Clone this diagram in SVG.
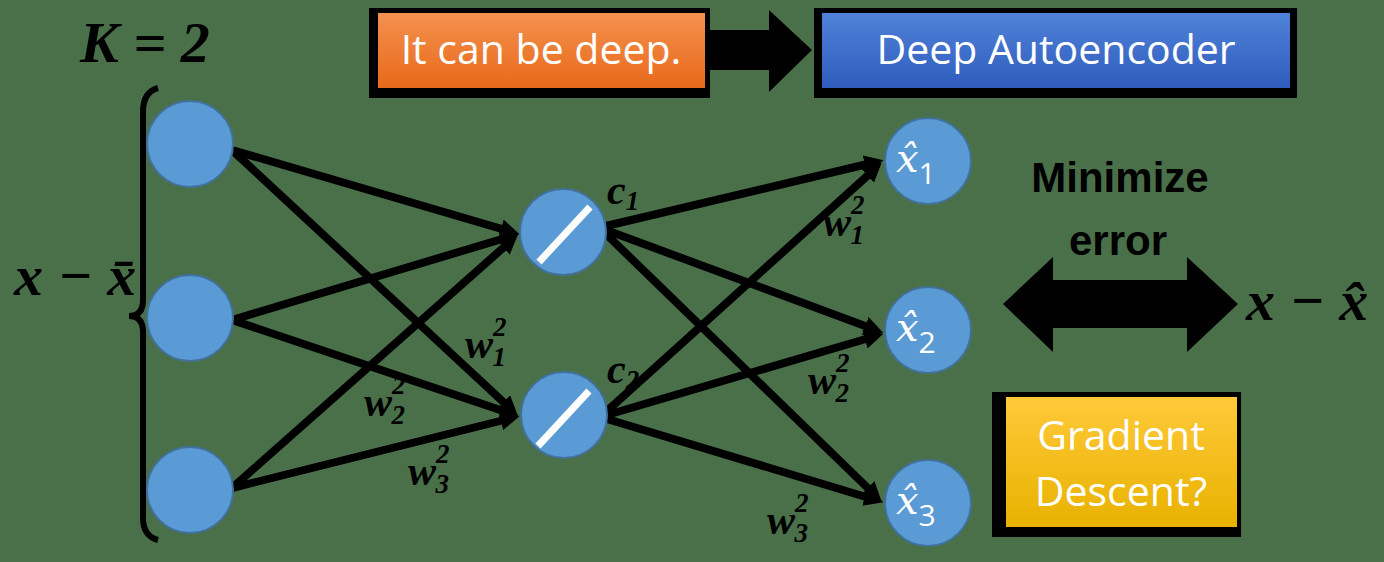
<svg xmlns="http://www.w3.org/2000/svg" width="1384" height="562" viewBox="0 0 1384 562">
<defs>
<linearGradient id="gOrange" x1="0" y1="0" x2="0" y2="1"><stop offset="0" stop-color="#f4914f"/><stop offset="1" stop-color="#e8691a"/></linearGradient>
<linearGradient id="gBlue" x1="0" y1="0" x2="0" y2="1"><stop offset="0" stop-color="#4f82d8"/><stop offset="1" stop-color="#2f5cbd"/></linearGradient>
<linearGradient id="gYellow" x1="0" y1="0" x2="0" y2="1"><stop offset="0" stop-color="#ffc93a"/><stop offset="1" stop-color="#e8b200"/></linearGradient>
<marker id="ah" viewBox="0 0 10 10" refX="6" refY="5" markerWidth="2.4" markerHeight="2.4" orient="auto"><path d="M0,0 L10,5 L0,10 z" fill="#000"/></marker>
</defs>
<style>
.node{fill:#5b9bd5;stroke:#41719c;stroke-width:2}
.conn{stroke:#000;stroke-width:8;fill:none;marker-end:url(#ah)}
.math{font-family:"Liberation Serif",serif;font-style:italic;font-weight:bold;fill:#000}
.lbl{font-family:"Liberation Serif",serif;font-style:italic;font-weight:bold;fill:#000;font-size:42px}
.sup{font-size:27px}
.box{font-family:"Open Sans","Noto Sans",sans-serif;fill:#fff;text-anchor:middle}
.hat{font-family:"DejaVu Serif","Liberation Serif",serif;font-style:italic;fill:#fff;font-size:40px}
.sub{font-family:"Open Sans",sans-serif;font-style:normal;font-size:30px}
.big{font-family:"Liberation Sans",sans-serif;font-weight:bold;fill:#000;font-size:42px;text-anchor:middle}
.slash{stroke:#fff;stroke-width:7}
</style>
<rect width="1384" height="562" fill="#4a704a"/>

<g id="connectors">
<line class="conn" x1="232" y1="150" x2="512" y2="232"/>
<line class="conn" x1="232" y1="150" x2="512" y2="410"/>
<line class="conn" x1="232" y1="320" x2="512" y2="236"/>
<line class="conn" x1="232" y1="320" x2="512" y2="414"/>
<line class="conn" x1="232" y1="488" x2="512" y2="240"/>
<line class="conn" x1="232" y1="488" x2="512" y2="418"/>
<line class="conn" x1="606" y1="226" x2="876" y2="162"/>
<line class="conn" x1="606" y1="230" x2="876" y2="330"/>
<line class="conn" x1="606" y1="234" x2="876" y2="496"/>
<line class="conn" x1="607" y1="411" x2="876" y2="168"/>
<line class="conn" x1="607" y1="415" x2="876" y2="336"/>
<line class="conn" x1="607" y1="419" x2="876" y2="500"/>
</g>

<g id="bracket">
<path d="M158 88 Q143 92 143 112 L143 300 Q143 316 129 316 Q143 316 143 332 L143 518 Q143 536 158 540" fill="none" stroke="#000" stroke-width="6"/>
</g>
<g id="label-K"><text class="math" x="80" y="62" font-size="58">K = 2</text></g>
<g id="label-x-left"><text class="math" x="14" y="295" font-size="58">x − x̄</text></g>

<g id="in1"><circle class="node" cx="190" cy="144" r="43"/></g>
<g id="in2"><circle class="node" cx="190" cy="318" r="43"/></g>
<g id="in3"><circle class="node" cx="190" cy="490" r="43"/></g>

<g id="h1"><circle class="node" cx="563" cy="232" r="43"/><line class="slash" x1="539" y1="262" x2="590" y2="207"/></g>
<g id="h2"><circle class="node" cx="564" cy="415" r="43"/><line class="slash" x1="538" y1="446" x2="589" y2="391"/></g>

<g id="out1"><circle class="node" cx="928" cy="161" r="43"/><text class="hat" x="896" y="172">x̂<tspan class="sub" dy="12">1</tspan></text></g>
<g id="out2"><circle class="node" cx="928" cy="330" r="43"/><text class="hat" x="896" y="341">x̂<tspan class="sub" dy="12">2</tspan></text></g>
<g id="out3"><circle class="node" cx="928" cy="503" r="43"/><text class="hat" x="896" y="514">x̂<tspan class="sub" dy="12">3</tspan></text></g>

<g id="weight-labels">
<text class="lbl" x="465" y="358">w<tspan class="sup" dy="-22">2</tspan><tspan class="sup" dx="-14" dy="30">1</tspan></text>
<text class="lbl" x="364" y="416">w<tspan class="sup" dy="-22">2</tspan><tspan class="sup" dx="-14" dy="30">2</tspan></text>
<text class="lbl" x="408" y="485">w<tspan class="sup" dy="-22">2</tspan><tspan class="sup" dx="-14" dy="30">3</tspan></text>
<text class="lbl" x="823" y="236">w<tspan class="sup" dy="-22">2</tspan><tspan class="sup" dx="-14" dy="30">1</tspan></text>
<text class="lbl" x="808" y="394">w<tspan class="sup" dy="-22">2</tspan><tspan class="sup" dx="-14" dy="30">2</tspan></text>
<text class="lbl" x="767" y="534">w<tspan class="sup" dy="-22">2</tspan><tspan class="sup" dx="-14" dy="30">3</tspan></text>
<text class="lbl" x="607" y="204" font-size="34">c<tspan class="sup" dy="6">1</tspan></text>
<text class="lbl" x="607" y="383" font-size="34">c<tspan class="sup" dy="6">2</tspan></text>
</g>

<g id="box-deep">
<rect x="369" y="8" width="341" height="90" fill="#000"/>
<rect x="378" y="13" width="327" height="75" fill="url(#gOrange)"/>
<text class="box" x="541" y="64" font-size="41">It can be deep.</text>
</g>
<g id="arrow-top">
<path d="M708 30 L769 30 L769 10 L812 50 L769 92 L769 70 L708 70 z" fill="#000"/>
</g>
<g id="box-autoencoder">
<rect x="814" y="8" width="483" height="90" fill="#000"/>
<rect x="822" y="13" width="468" height="75" fill="url(#gBlue)"/>
<text class="box" x="1056" y="64" font-size="41">Deep Autoencoder</text>
</g>

<g id="minimize">
<text class="big" x="1120" y="192">Minimize</text>
<text class="big" x="1118" y="255">error</text>
</g>
<g id="arrow-double">
<path d="M1003 304 L1053 257 L1053 280 L1187 280 L1187 257 L1238 304 L1187 352 L1187 328 L1053 328 L1053 352 z" fill="#000"/>
</g>
<g id="label-x-right"><text class="math" x="1246" y="320" font-size="58">x − x̂</text></g>

<g id="box-gradient">
<rect x="992" y="392" width="249" height="145" fill="#000"/>
<rect x="1006" y="397" width="231" height="130" fill="url(#gYellow)"/>
<text class="box" x="1121" y="450" font-size="41">Gradient</text>
<text class="box" x="1121" y="506" font-size="41">Descent?</text>
</g>
</svg>
